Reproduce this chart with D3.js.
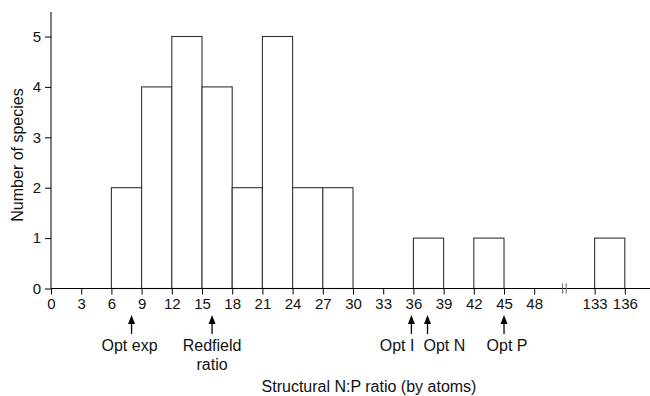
<!DOCTYPE html>
<html>
<head>
<meta charset="utf-8">
<script src="https://cdn.jsdelivr.net/npm/d3@7"></script>
<style>
  body { margin: 0; background: #fff; }
  svg { display: block; font-family: "Liberation Sans", Arial, Helvetica, sans-serif; }
</style>
</head>
<body>
<svg id="chart" width="650" height="396"></svg>
<script>
// histogram bins (left edge, width 3) and species counts
const binStarts = [6, 9, 12, 15, 18, 21, 24, 27, 36, 42, 133];
const binCounts = [2, 4, 5, 4, 2, 5, 2, 2, 1, 1, 1];
const binWidth = 3;

const xTicks = [0, 3, 6, 9, 12, 15, 18, 21, 24, 27, 30, 33, 36, 39, 42, 45, 48, 133, 136];
const yTicks = [0, 1, 2, 3, 4, 5];

// marker arrows under the axis
const markerNames = ["Opt exp", "Redfield\nratio", "Opt I", "Opt N", "Opt P"];
const markerValues = [8, 16, 35.8, 37.4, 45];
const markerAnchor = ["middle", "middle", "end", "start", "middle"];
const markerShift = [-2, 0, 3, -4, 3];

const svg = d3.select("#chart");
const unit = 10.067;

// broken axis: 48 -> 133 squeezed into two bin widths
const x = d3.scaleLinear()
  .domain([0, 48, 133, 140])
  .range([51, 51 + 48 * unit, 51 + 54 * unit, 51 + 61 * unit]);
const y = d3.scaleLinear()
  .domain([0, 5])
  .range([288.5, 36.5]);

// bars
svg.append("g")
  .selectAll("rect")
  .data(binStarts)
  .join("rect")
  .attr("x", d => x(d))
  .attr("y", (d, i) => y(binCounts[i]))
  .attr("width", d => x(d + binWidth) - x(d))
  .attr("height", (d, i) => y(0) - y(binCounts[i]))
  .attr("fill", "#fff")
  .attr("stroke", "#333")
  .attr("stroke-width", 1.1);

// x axis
const xAxis = svg.append("g")
  .attr("transform", `translate(0,${y(0)})`)
  .call(d3.axisBottom(x).tickValues(xTicks).tickSize(6).tickSizeOuter(0).tickPadding(4));
xAxis.select(".domain").remove();
xAxis.append("line")
  .attr("x1", x(0)).attr("x2", 650)
  .attr("stroke", "#000");
xAxis.selectAll(".tick line").attr("stroke", "#000");
xAxis.selectAll(".tick text")
  .attr("fill", "#111")
  .style("font-size", "15px")
  .style("font-family", "Liberation Sans, Arial, sans-serif");

// break mark
const bx = (x(48) + x(133)) / 2;
[-1.8, 1.8].forEach(o => {
  xAxis.append("line")
    .attr("x1", bx + o).attr("x2", bx + o)
    .attr("y1", -5).attr("y2", 5)
    .attr("stroke", "#666").attr("stroke-width", 1);
});

// y axis
const yAxis = svg.append("g")
  .attr("transform", `translate(${x(0)},0)`)
  .call(d3.axisLeft(y).tickValues(yTicks).tickFormat(d3.format("d"))
    .tickSize(6).tickSizeOuter(0).tickPadding(4));
yAxis.select(".domain").remove();
yAxis.append("line")
  .attr("y1", 12).attr("y2", y(0))
  .attr("stroke", "#000");
yAxis.selectAll(".tick text")
  .attr("fill", "#111")
  .style("font-size", "15px")
  .style("font-family", "Liberation Sans, Arial, sans-serif");

// arrows + labels
const marks = svg.append("g")
  .selectAll("g")
  .data(markerValues)
  .join("g")
  .attr("transform", d => `translate(${x(d)},0)`);
marks.append("line")
  .attr("y1", 334).attr("y2", 322)
  .attr("stroke", "#000").attr("stroke-width", 1.3);
marks.append("path")
  .attr("d", "M-3.5,324 L0,315 L3.5,324 Z")
  .attr("fill", "#000");
marks.append("text")
  .attr("text-anchor", (d, i) => markerAnchor[i])
  .attr("fill", "#111")
  .style("font-size", "16px")
  .each(function(d, i) {
    const lines = markerNames[i].split("\n");
    d3.select(this).selectAll("tspan")
      .data(lines)
      .join("tspan")
      .attr("x", markerShift[i])
      .attr("y", (l, j) => 351 + j * 19)
      .text(l => l);
  });

// axis titles
svg.append("text")
  .attr("x", 369).attr("y", 392)
  .attr("text-anchor", "middle")
  .attr("fill", "#111")
  .style("font-size", "16px")
  .text("Structural N:P ratio (by atoms)");
svg.append("text")
  .attr("transform", "translate(23,155) rotate(-90)")
  .attr("text-anchor", "middle")
  .attr("fill", "#111")
  .style("font-size", "16px")
  .text("Number of species");
</script>
</body>
</html>
